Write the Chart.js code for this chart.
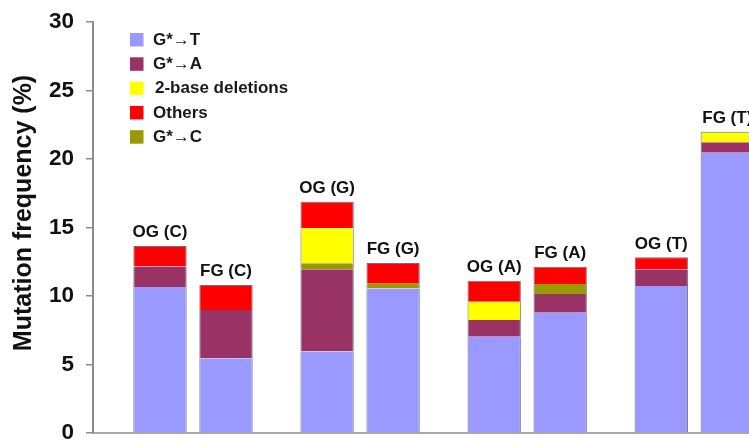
<!DOCTYPE html>
<html><head><meta charset="utf-8">
<script src="https://cdn.jsdelivr.net/npm/chart.js@4"></script>
<style>html,body{margin:0;padding:0;background:#fff;overflow:hidden}#wrap{width:749px;height:441px;position:relative}</style>
</head><body><div id="wrap"><canvas id="c"></canvas></div>
<script>
// ---- data ----
const categories = ['C', 'G', 'A', 'T'];
const groups = ['OG', 'FG'];
const yTicks = [0, 5, 10, 15, 20, 25, 30];
// stacking order, bottom -> top
const seriesNames = ['G*\u2192T', 'G*\u2192A', 'G*\u2192C', '2-base deletions', 'Others'];
const legendOrder = ['G*\u2192T', 'G*\u2192A', '2-base deletions', 'Others', 'G*\u2192C'];
const gToT_OG = [10.65, 5.95, 7.03, 10.73];
const gToT_FG = [5.45, 10.55, 8.78, 20.46];
const gToA_OG = [1.50, 6.00, 1.22, 1.22];
const gToA_FG = [3.53, 0, 1.37, 0.76];
const gToC_OG = [0, 0.44, 0, 0];
const gToC_FG = [0, 0.35, 0.73, 0];
const del2_OG = [0, 2.55, 1.33, 0];
const del2_FG = [0, 0, 0, 0.77];
const others_OG = [1.50, 1.94, 1.54, 0.87];
const others_FG = [1.82, 1.50, 1.26, 0];

// ---- styles ----
const colors = ['#9999FF', '#993366', '#999900', '#FFFF00', '#FF0000'];
const FONT = "'Liberation Sans', Arial, sans-serif";
const seriesOG = [gToT_OG, gToA_OG, gToC_OG, del2_OG, others_OG];
const seriesFG = [gToT_FG, gToA_FG, gToC_FG, del2_FG, others_FG];

function isTopOfStack(src, si, i) {
  for (let k = si + 1; k < src.length; k++) if (src[k][i]) return false;
  return true;
}

const datasets = [];
groups.forEach((g, gi) => {
  const src = gi === 0 ? seriesOG : seriesFG;
  seriesNames.forEach((name, si) => {
    datasets.push({
      label: name,
      data: src[si],
      stack: g,
      backgroundColor: colors[si],
      borderColor: 'rgba(85,85,110,0.85)',
      borderWidth: ctx => (ctx.raw
        ? { left: 1, right: 1, bottom: 0, top: isTopOfStack(src, si, ctx.dataIndex) ? 1 : 0 }
        : 0),
      borderSkipped: false,
      categoryPercentage: 0.79,
      barPercentage: 0.808
    });
  });
});

const overlay = {
  id: 'overlay',
  afterDatasetsDraw(chart) {
    const ctx = chart.ctx;
    ctx.save();
    // labels above each stack
    ctx.font = 'bold 17px ' + FONT;
    ctx.fillStyle = '#111';
    ctx.textAlign = 'center';
    ctx.textBaseline = 'bottom';
    categories.forEach((c, i) => {
      groups.forEach(g => {
        let top = Infinity, x = null;
        chart.data.datasets.forEach((ds, di) => {
          if (ds.stack !== g) return;
          const el = chart.getDatasetMeta(di).data[i];
          if (!el) return;
          x = el.x;
          if (ds.data[i]) top = Math.min(top, el.y);
        });
        if (x !== null && isFinite(top)) ctx.fillText(g + ' (' + c + ')', x, top - 5);
      });
    });
    // legend inside plot
    ctx.font = 'bold 17px ' + FONT;
    ctx.textAlign = 'left';
    ctx.textBaseline = 'middle';
    legendOrder.forEach((name, k) => {
      const si = seriesNames.indexOf(name);
      const yc = 39.5 + k * 24.3;
      ctx.fillStyle = colors[si];
      ctx.fillRect(130, yc - 6.5, 13.5, 13.5);
      ctx.fillStyle = '#1a1a1a';
      ctx.fillText(name, name === '2-base deletions' ? 155 : 153, yc + 0.5);
    });
    // y-axis title
    ctx.translate(24, 213);
    ctx.rotate(-Math.PI / 2);
    ctx.textAlign = 'center';
    ctx.font = 'bold 25px ' + FONT;
    ctx.fillStyle = '#111';
    ctx.fillText('Mutation frequency (%)', 0, 0);
    ctx.restore();
  }
};

new Chart(document.getElementById('c'), {
  type: 'bar',
  data: { labels: categories, datasets },
  options: {
    responsive: true,
    maintainAspectRatio: false,
    animation: false,
    layout: { padding: { top: 22, left: 0, right: 0, bottom: 0 } },
    plugins: { legend: { display: false }, tooltip: { enabled: false } },
    scales: {
      x: {
        stacked: true,
        offset: true,
        ticks: { display: false },
        grid: { display: false, drawTicks: false },
        border: { display: true, color: '#a8a8a8', width: 2 },
        afterBuildTicks: s => { s._startValue = -0.5985; s._valueRange = 3.926; },
        afterFit: s => { s.height = 8; }
      },
      y: {
        stacked: true,
        min: 0,
        max: 30,
        afterBuildTicks: s => { s.ticks = yTicks.map(v => ({ value: v })); },
        ticks: { padding: 12, color: '#111', font: { family: FONT, size: 22.5, weight: 'bold' } },
        grid: { drawOnChartArea: false, drawTicks: true, tickLength: 7, color: '#8c8c8c', lineWidth: 1.5 },
        border: { display: true, color: '#8c8c8c', width: 2 },
        afterFit: s => { s.width = 93; s.paddingTop = 0; s.paddingBottom = 0; }
      }
    }
  },
  plugins: [overlay]
});
</script>
</body></html>
